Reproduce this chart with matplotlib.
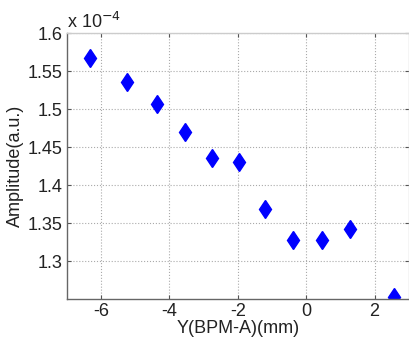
import matplotlib
matplotlib.use("Agg")
from matplotlib import pyplot as plt

# values (amplitude in units of 1e-4)
y_bpm = [-6.32, -5.25, -4.37, -3.54, -2.75, -1.97, -1.20, -0.40, 0.46, 1.29, 2.56]
amplitude = [1.567, 1.536, 1.507, 1.470, 1.436, 1.430, 1.369, 1.328, 1.328, 1.342, 1.252]
x_ticks = [-6, -4, -2, 0, 2]
y_ticks = [1.3, 1.35, 1.4, 1.45, 1.5, 1.55, 1.6]

plt.rcParams['font.family'] = ['Liberation Sans', 'DejaVu Sans']

fig = plt.figure(figsize=(4.1, 3.45), dpi=100)
ax = fig.add_axes([0.163, 0.1333, 0.834, 0.771])

ax.plot(y_bpm, amplitude, linestyle='none', marker='d', markersize=9.5,
        color='#0000ff', markeredgecolor='#0000ff')

ax.set_xlim(-7, 3)
ax.set_ylim(1.25, 1.6)
ax.set_xticks(x_ticks)
ax.set_yticks(y_ticks)
ax.set_xticklabels([str(t) for t in x_ticks])
ax.set_yticklabels(["{:g}".format(t) for t in y_ticks])

ax.grid(True, linestyle=':', color='#aaaaaa', linewidth=0.8)
ax.set_axisbelow(True)
ax.tick_params(direction='in', labelsize=13, length=3, colors='#555555',
               labelcolor='#222222', top=True, right=True, pad=3)

for side in ['left', 'bottom']:
    ax.spines[side].set_color('#666666')
    ax.spines[side].set_linewidth(1.0)
for side in ['top', 'right']:
    ax.spines[side].set_color('#cccccc')
    ax.spines[side].set_linewidth(1.0)

ax.set_xlabel('Y(BPM-A)(mm)', fontsize=13, labelpad=0, color='#222222')
ax.set_ylabel('Amplitude(a.u.)', fontsize=13, labelpad=3, color='#222222')

ax.text(0.0, 1.005, r'x 10$^{-4}$', transform=ax.transAxes, fontsize=13,
        ha='left', va='bottom', color='#222222')

fig.savefig('out.png', dpi=100)
